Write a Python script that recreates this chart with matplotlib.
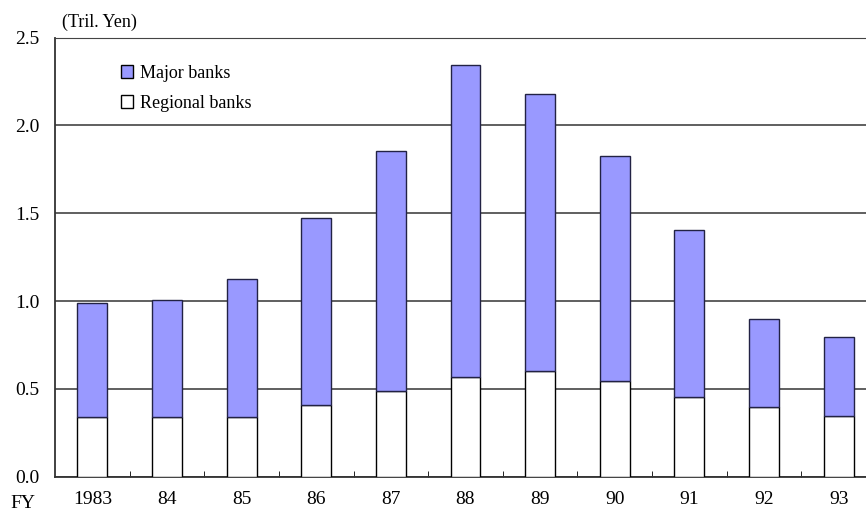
import numpy as np
import matplotlib
matplotlib.use("Agg")
import matplotlib.pyplot as plt
from matplotlib.patches import Patch

plt.rcParams['font.family'] = ['Liberation Serif', 'DejaVu Serif']

years = ["1983", "84", "85", "86", "87", "88", "89", "90", "91", "92", "93"]
regional = [0.34, 0.34, 0.34, 0.41, 0.49, 0.57, 0.60, 0.545, 0.454, 0.395, 0.347]
total = [0.987, 1.008, 1.124, 1.471, 1.857, 2.346, 2.178, 1.826, 1.404, 0.898, 0.796]
major = [t - r for t, r in zip(total, regional)]

fig = plt.figure(figsize=(8.66, 5.11), dpi=100)
# axes run past the right edge of the picture, like the reference crop
ax = fig.add_axes([55/866, 1 - 476.7/511, 821/866, 439/511])

x = np.arange(len(years))
w = 0.4
ax.bar(x, regional, w, color="white", edgecolor="black", linewidth=1, zorder=3,
       label="Regional banks")
ax.bar(x, major, w, bottom=regional, color="#9999FF", edgecolor="#222244",
       linewidth=1, zorder=3, label="Major banks")

ax.set_ylim(0, 2.5)
ax.set_xlim(-0.5, len(years) - 0.5)
ax.set_yticks(np.arange(0, 2.51, 0.5))
ax.set_yticklabels([f"{v:.1f}" for v in np.arange(0, 2.51, 0.5)], fontsize=14)
ax.yaxis.grid(True, color="#444444", linewidth=1.2, zorder=0)
ax.tick_params(axis="y", length=0, pad=11)

ax.set_xticks(x)
ax.set_xticklabels(years, fontsize=14)
ax.tick_params(axis="x", length=0, pad=10)
ax.set_xticks(x[:-1] + 0.5, minor=True)
ax.tick_params(axis="x", which="minor", length=4, direction="in")

for s in ["left", "bottom"]:
    ax.spines[s].set_color("#333333")
    ax.spines[s].set_linewidth(1.3)
ax.spines["top"].set_color("#444444")
ax.spines["right"].set_visible(False)

handles = [Patch(facecolor="#9999FF", edgecolor="black", label="Major banks"),
           Patch(facecolor="white", edgecolor="black", label="Regional banks")]
ax.legend(handles=handles, loc="upper left", bbox_to_anchor=(0.06, 0.975),
          frameon=False, fontsize=13, handlelength=0.7, handleheight=0.7,
          handletextpad=0.4, labelspacing=0.7)

fig.text(62/866, 1 - 22/511, "(Tril. Yen)", fontsize=13, va="center")
fig.text(10/866, 1 - 503/511, "FY", fontsize=14, va="center")

fig.savefig("out.png", dpi=100)
